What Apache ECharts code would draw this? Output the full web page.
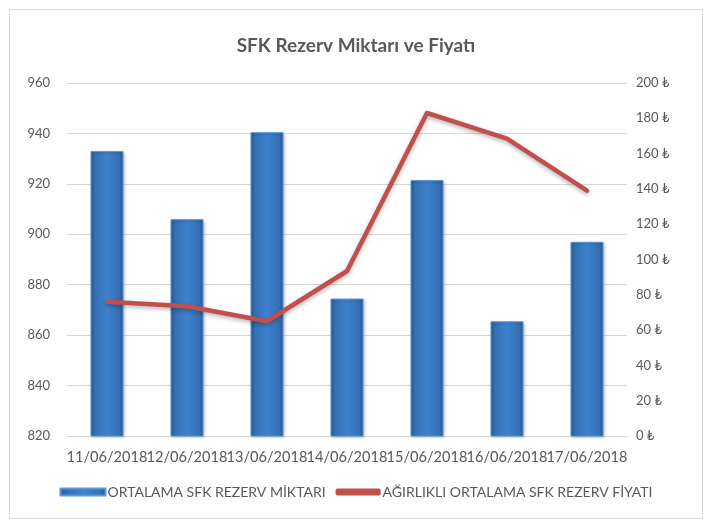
<!DOCTYPE html>
<html>
<head>
<meta charset="utf-8">
<script src="https://cdn.jsdelivr.net/npm/echarts@6/dist/echarts.min.js"></script>
<style>
  html, body { margin: 0; padding: 0; background: #fff; }
  #chart { width: 712px; height: 528px; }
</style>
</head>
<body>
<div id="chart"></div>
<script>
const dates = ["11/06/2018", "12/06/2018", "13/06/2018", "14/06/2018", "15/06/2018", "16/06/2018", "17/06/2018"];
const reserveAmount = [933, 906, 940.5, 874.5, 921.5, 865.5, 897];
const reservePrice = [76, 73.5, 65, 93.5, 183, 168.5, 139];
const leftTicks = [820, 840, 860, 880, 900, 920, 940, 960];
const rightTicks = [0, 20, 40, 60, 80, 100, 120, 140, 160, 180, 200];

const barName = "ORTALAMA SFK REZERV MİKTARI";
const lineName = "AĞIRLIKLI ORTALAMA SFK REZERV FİYATI";
const font = "Lato, 'Liberation Sans', sans-serif";
const textColor = "#595959";

const barColor = new echarts.graphic.LinearGradient(0, 0, 1, 0, [
  { offset: 0, color: "#2b5a93" },
  { offset: 0.15, color: "#3570b5" },
  { offset: 0.5, color: "#3f82d0" },
  { offset: 0.85, color: "#3570b5" },
  { offset: 1, color: "#2b5a93" },
]);

const chart = echarts.init(document.getElementById("chart"));

chart.setOption({
  animation: false,
  textStyle: { fontFamily: font },
  graphic: [
    {
      type: "rect",
      shape: { x: 9.5, y: 9.5, width: 693, height: 509 },
      style: { fill: "none", stroke: "#d9d9d9", lineWidth: 1 },
      silent: true,
    },
  ],
  title: {
    text: "SFK Rezerv Miktarı ve Fiyatı",
    left: "center",
    top: 31,
    textStyle: { fontFamily: font, fontSize: 19, fontWeight: "bold", color: textColor },
  },
  legend: {
    bottom: 24,
    left: "center",
    itemWidth: 45,
    itemHeight: 7,
    itemGap: 10,
    textStyle: { fontFamily: font, fontSize: 14, color: textColor, padding: [0, 0, 0, -3] },
    data: [
      { name: barName, icon: "rect" },
      { name: lineName, icon: "roundRect", itemStyle: { color: "#c0504d" } },
    ],
  },
  grid: { left: 67, right: 85, top: 83, bottom: 92 },
  xAxis: {
    type: "category",
    data: dates,
    axisLine: { lineStyle: { color: "#d9d9d9" } },
    axisTick: { show: false },
    axisLabel: { color: textColor, fontSize: 14.6, margin: 14, interval: 0 },
  },
  yAxis: [
    {
      type: "value",
      min: leftTicks[0],
      max: leftTicks[leftTicks.length - 1],
      interval: 20,
      axisLine: { show: false },
      axisTick: { show: false },
      axisLabel: { color: textColor, fontSize: 13, margin: 17 },
      splitLine: { lineStyle: { color: "#d9d9d9", width: 1 } },
    },
    {
      type: "value",
      min: rightTicks[0],
      max: rightTicks[rightTicks.length - 1],
      interval: 20,
      axisLine: { show: false },
      axisTick: { show: false },
      axisLabel: { color: textColor, fontSize: 13, margin: 9, formatter: "{value} ₺" },
      splitLine: { show: false },
    },
  ],
  series: [
    {
      name: barName,
      type: "bar",
      data: reserveAmount,
      barWidth: 33,
      itemStyle: {
        color: barColor,
        borderColor: "#5a97dc",
        borderWidth: 1,
        shadowColor: "rgba(0,0,0,0.25)",
        shadowBlur: 3,
        shadowOffsetX: 1,
        shadowOffsetY: 1,
      },
    },
    {
      name: lineName,
      type: "line",
      yAxisIndex: 1,
      data: reservePrice,
      symbol: "none",
      lineStyle: {
        color: "#c0504d",
        width: 4.5,
        cap: "round",
        join: "round",
        shadowColor: "rgba(0,0,0,0.3)",
        shadowBlur: 4,
        shadowOffsetY: 2,
      },
      itemStyle: { color: "#c0504d" },
    },
  ],
});
</script>
</body>
</html>
